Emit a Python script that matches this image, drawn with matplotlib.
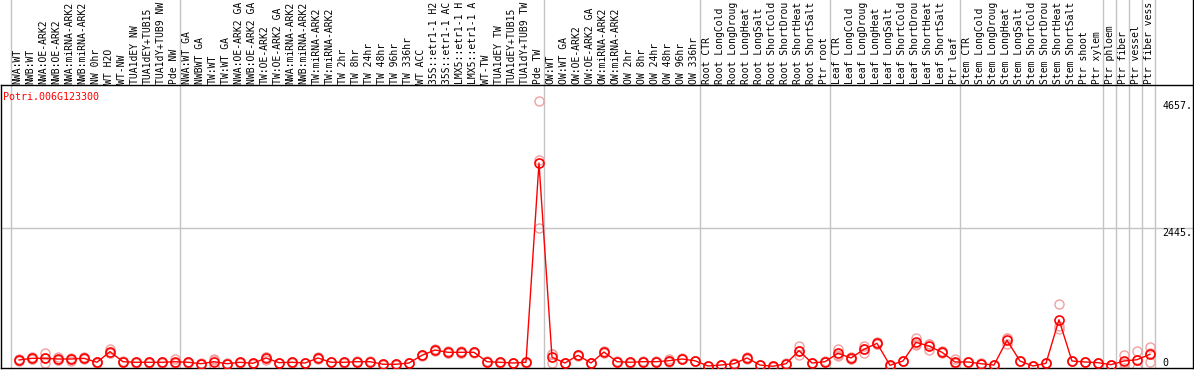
import matplotlib
matplotlib.use("Agg")
import matplotlib.pyplot as plt
import matplotlib.transforms as mtransforms

gene = "Potri.006G123300"

# labels as they appear (the header cuts the long ones)
samples = ["NWA:WT", "NWB:WT", "NWA:OE-ARK2", "NWB:OE-ARK2", "NWA:miRNA-ARK2", "NWB:miRNA-ARK2",
           "NW 0hr", "WT H2O", "WT-NW", "TUA1dEY NW", "TUA1dEY+TUB15", "TUA1dY+TUB9 NW", "Pde NW",
           "NWA:WT GA", "NWBWT GA", "TW:WT", "TW:WT GA", "NWA:OE-ARK2 GA", "NWB:OE-ARK2 GA",
           "TW:OE-ARK2", "TW:OE-ARK2 GA", "NWA:miRNA-ARK2", "NWB:miRNA-ARK2", "TW:miRNA-ARK2",
           "TW:miRNA-ARK2", "TW 2hr", "TW 8hr", "TW 24hr", "TW 48hr", "TW 96hr", "TW 336hr", "WT ACC",
           "35S::etr1-1 H2", "35S::etr1-1 AC", "LMX5::etr1-1 H", "LMX5::etr1-1 A", "WT-TW",
           "TUA1dEY TW", "TUA1dEY+TUB15", "TUA1dY+TUB9 TW", "Pde TW",
           "OW:WT", "OW:WT GA", "OW:OE-ARK2", "OW:OE-ARK2 GA", "OW:miRNA-ARK2", "OW:miRNA-ARK2",
           "OW 2hr", "OW 8hr", "OW 24hr", "OW 48hr", "OW 96hr", "OW 336hr",
           "Root CTR", "Root LongCold", "Root LongDroug", "Root LongHeat", "Root LongSalt",
           "Root ShortCold", "Root ShortDrou", "Root ShortHeat", "Root ShortSalt", "Ptr root",
           "Leaf CTR", "Leaf LongCold", "Leaf LongDroug", "Leaf LongHeat", "Leaf LongSalt",
           "Leaf ShortCold", "Leaf ShortDrou", "Leaf ShortHeat", "Leaf ShortSalt", "Ptr leaf",
           "Stem CTR", "Stem LongCold", "Stem LongDroug", "Stem LongHeat", "Stem LongSalt",
           "Stem ShortCold", "Stem ShortDrou", "Stem ShortHeat", "Stem ShortSalt", "Ptr shoot",
           "Ptr xylem", "Ptr phloem", "Ptr fiber", "Ptr vessel", "Ptr fiber vess"]

# first sample index of each group (and the end)
group_starts = [0, 13, 41, 53, 63, 73, 84, 85, 86, 87, 88]

mean_expr = [140, 169, 169, 157, 157, 169, 100, 285, 110, 100, 100, 100, 110,
             100, 75, 110, 75, 100, 82, 175, 93, 100, 87, 175, 100, 100, 110, 110, 65, 65, 87,
             222, 314, 274, 274, 274, 110, 100, 87, 100, 3579,
             187, 87, 222, 87, 279, 110, 100, 110, 110, 127, 157, 127,
             35, 52, 75, 175, 52, 30, 75, 302, 87, 110,
             257, 175, 326, 431, 47, 122, 449, 384, 274, 105,
             105, 75, 52, 484, 122, 35, 82, 843, 122, 105,
             93, 58, 122, 145, 239]

rep1 = [165, 190, 257, 185, 180, 190, 95, 330, 105, 95, 100, 105, 150,
        95, 70, 150, 80, 95, 75, 140, 90, 100, 80, 190, 100, 105, 115, 105, 60, 70, 85,
        230, 330, 290, 300, 285, 120, 95, 95, 110, 4657,
        240, 80, 230, 80, 290, 105, 100, 115, 120, 160, 170, 130,
        30, 55, 80, 190, 55, 25, 80, 384, 90, 105,
        326, 200, 384, 459, 40, 120, 529, 314, 290, 152,
        110, 70, 50, 413, 130, 30, 80, 1117, 125, 100,
        90, 60, 227, 302, 372]

rep2 = [120, 155, 82, 140, 130, 150, 105, 270, 115, 105, 95, 95, 90,
        105, 80, 145, 70, 105, 85, 200, 95, 95, 95, 165, 100, 95, 105, 115, 70, 60, 90,
        215, 300, 265, 260, 265, 100, 105, 80, 90, 2445,
        240, 95, 215, 95, 270, 115, 105, 105, 100, 100, 150, 125,
        40, 50, 70, 165, 45, 35, 70, 232, 85, 115,
        210, 160, 257, 420, 55, 125, 420, 420, 260, 80,
        100, 80, 55, 520, 115, 40, 85, 681, 120, 110,
        95, 55, 87, 0, 257]

rep3 = [135, 162, 168, 146, 161, 167, 100, 255, 110, 100, 105, 100, 90,
        100, 75, 35, 75, 100, 86, 185, 94, 105, 86, 170, 100, 100, 110, 110, 65, 65, 86,
        221, 312, 267, 262, 272, 110, 100, 86, 100, 3635,
        82, 86, 221, 86, 277, 110, 95, 110, 110, 121, 151, 126,
        35, 51, 75, 170, 56, 30, 75, 290, 86, 110,
        235, 165, 337, 414, 46, 121, 398, 418, 272, 83,
        105, 75, 51, 519, 121, 35, 81, 731, 121, 105,
        94, 59, 0, 133, 110]

ytick_vals = [4657, 2445, 0]
ytick_text = ["4657.", "2445.", "0"]

mono = "DejaVu Sans Mono"
red = "#ff0000"
pale = "#f0a0a0"
grey = "#c4c4c4"

W, H = 1194, 370
fig = plt.figure(figsize=(W / 100, H / 100), dpi=100)
ax = fig.add_axes([1 / W, 2 / H, 1192 / W, 283 / H])
ax.set_xlim(-1.385, 90.31)
ax.set_ylim(0, 4941)
ax.set_xticks([])
ax.set_yticks([])
for s in ax.spines.values():
    s.set_color("black")
    s.set_linewidth(1)

xs = list(range(len(samples)))
trans = mtransforms.blended_transform_factory(ax.transData, ax.transAxes)

# grid line + group separators (running up through the header)
ax.axhline(2445, color=grey, lw=1, zorder=1)
for b in group_starts:
    ax.plot([b - 0.615, b - 0.615], [0, 1.31], color=grey, lw=1,
            transform=trans, clip_on=False, zorder=1)
ax.plot([1, 1], [1, 1.31], color="black", lw=1, transform=ax.transAxes, clip_on=False)

# replicates
for r in (rep1, rep2, rep3):
    ax.plot(xs, r, ls="none", marker="o", ms=6.5, mfc="none", mec=pale, mew=1, zorder=2)

# mean
ax.plot(xs, mean_expr, color=red, lw=1, marker="o", ms=6.5, mfc="none", mec=red, mew=1.2, zorder=3)

# sample labels in header
for i, lab in enumerate(samples):
    ax.text(i - 0.1, 1.004, lab, rotation=90, ha="center", va="bottom", fontsize=7.0,
            family=mono, transform=trans, clip_on=False)

ax.text(0.0018, 0.975, gene, color=red, fontsize=7.2, family=mono, ha="left", va="top",
        transform=ax.transAxes)

for v, t in zip(ytick_vals, ytick_text):
    ax.text(87.95, v, t, fontsize=7.2, family=mono, ha="left",
            va="bottom" if v == 0 else "top")

fig.savefig("out.png", dpi=100)
